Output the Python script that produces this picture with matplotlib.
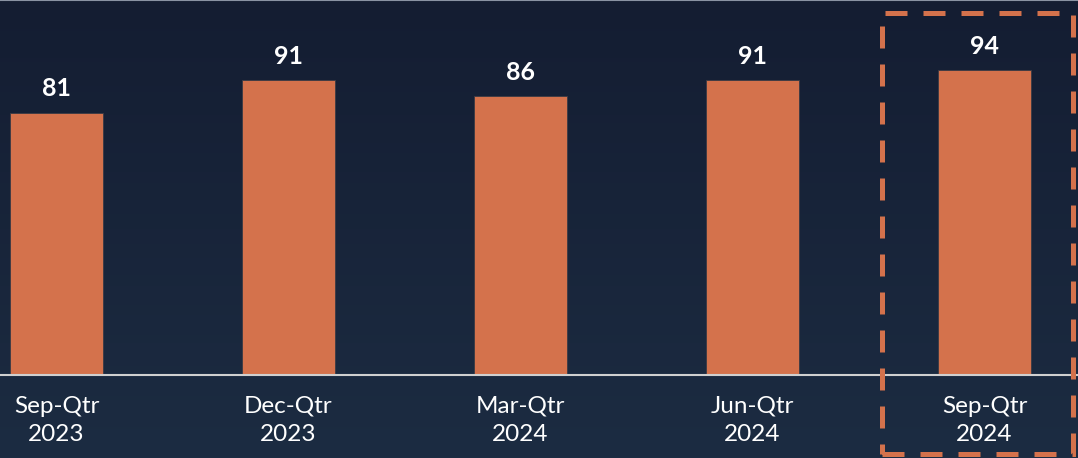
import matplotlib.pyplot as plt
import numpy as np
from matplotlib.colors import LinearSegmentedColormap
from matplotlib.patches import Rectangle

quarters = ["Sep-Qtr\n2023", "Dec-Qtr\n2023", "Mar-Qtr\n2024", "Jun-Qtr\n2024", "Sep-Qtr\n2024"]
values = [81, 91, 86, 91, 94]

BAR_COLOR = "#D4724C"
TEXT_COLOR = "#FFFFFF"

plt.rcParams["font.family"] = ["Lato", "DejaVu Sans"]

fig = plt.figure(figsize=(10.78, 4.58), dpi=100)

# gradient background over the whole figure
bg = fig.add_axes([0, 0, 1, 1], zorder=-10)
cmap = LinearSegmentedColormap.from_list("bg", ["#141D32", "#1C2C42"])
bg.imshow(np.linspace(0, 1, 256).reshape(-1, 1), aspect="auto", cmap=cmap,
          extent=[0, 1, 0, 1], origin="upper")
bg.axis("off")
bg.axhline(1, color="#8A93A3", linewidth=1.5)

ax = fig.add_axes([0, 83 / 458, 1, 375 / 458])
ax.patch.set_alpha(0)
x = np.arange(len(quarters))
ax.bar(x, values, width=0.4, color=BAR_COLOR, edgecolor="#3A3A44", linewidth=0.6, zorder=2)

for xi, v in zip(x, values):
    ax.annotate(str(v), (xi, v), xytext=(0, 9), textcoords="offset points",
                ha="center", va="bottom", color=TEXT_COLOR, fontsize=18, fontweight="bold")

ax.set_xlim(-56.5 / 232, (1078 - 56.5) / 232)
ax.set_ylim(0, 375 / 3.24)
ax.set_xticks(x)
ax.set_xticklabels(quarters, color=TEXT_COLOR, fontsize=17.5, linespacing=1.42)
ax.tick_params(axis="x", length=0, pad=15)
ax.set_yticks([])
for side in ["top", "right", "left"]:
    ax.spines[side].set_visible(False)
ax.spines["bottom"].set_color("#D0D0D0")
ax.spines["bottom"].set_linewidth(1.5)

# dashed highlight box around the latest quarter
box = Rectangle((881.5 / 1078, 4 / 458), (1073 - 881.5) / 1078, (445.5 - 4) / 458,
                transform=fig.transFigure, fill=False, edgecolor=BAR_COLOR,
                linewidth=3.6, linestyle=(0, (4.4, 3.2)), zorder=5)
fig.patches.append(box)

fig.savefig("out.png", dpi=100)
